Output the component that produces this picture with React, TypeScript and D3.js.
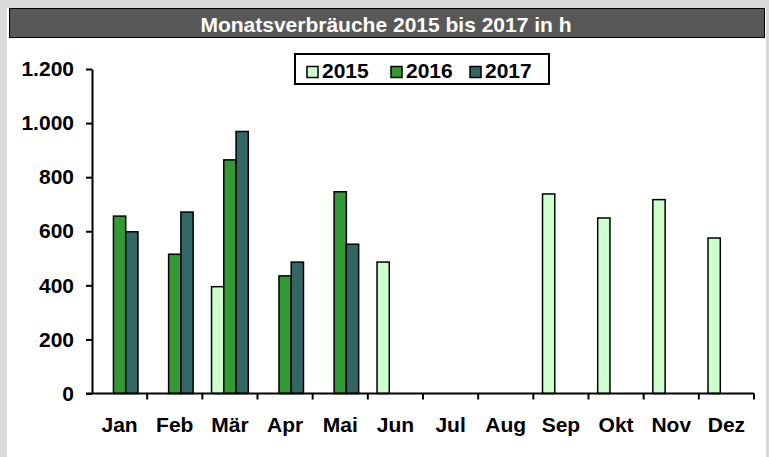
import React, { useEffect, useRef } from "react";
import * as d3 from "d3";

// Data
const months = ["Jan", "Feb", "Mär", "Apr", "Mai", "Jun", "Jul", "Aug", "Sep", "Okt", "Nov", "Dez"];
const years = ["2015", "2016", "2017"];
const values2015: (number | null)[] = [null, null, 395, null, null, 486, null, null, 738, 649, 717, 575];
const values2016: (number | null)[] = [656, 515, 864, 435, 746, null, null, null, null, null, null, null];
const values2017: (number | null)[] = [598, 671, 969, 486, 552, null, null, null, null, null, null, null];
const yTicks = [0, 200, 400, 600, 800, 1000, 1200];
const colors = ["#ccffcc", "#339933", "#336666"];

const W = 769;
const H = 457;
const FONT = "'Liberation Sans', Arial, Helvetica, sans-serif";

const App = () => {
  const ref = useRef<SVGSVGElement | null>(null);

  useEffect(() => {
    const svg = d3.select(ref.current);
    svg.selectAll("*").remove();

    const series = [values2015, values2016, values2017];

    // background + panel
    svg.append("rect").attr("width", W).attr("height", H).attr("fill", "#d9d9d9");
    svg.append("rect").attr("x", 7).attr("y", 8).attr("width", 759).attr("height", H - 8).attr("fill", "#ffffff");

    // title bar
    svg.append("rect")
      .attr("x", 9.5).attr("y", 8.5).attr("width", 755).attr("height", 29)
      .attr("fill", "#585858").attr("stroke", "#000").attr("stroke-width", 1);
    svg.append("text")
      .attr("x", 386).attr("y", 31.5)
      .attr("text-anchor", "middle")
      .attr("fill", "#ffffff")
      .style("font-family", FONT).style("font-weight", "bold").style("font-size", "21px")
      .text("Monatsverbräuche 2015 bis 2017 in h");

    const x0 = d3.scaleBand().domain(months).range([92, 754]).padding(0);
    const groupW = (x0.bandwidth() * 3) / 4.5; // Excel gap width 150%
    const x1 = d3.scaleBand().domain(years).range([0, groupW]).padding(0);
    const y = d3.scaleLinear().domain([0, 1200]).range([393.5, 69]);

    const fmt = d3.formatLocale({ decimal: ",", thousands: ".", grouping: [3], currency: ["", "€"] }).format(",d");

    // bars
    const g = svg.append("g");
    series.forEach((vals, si) => {
      g.append("g")
        .selectAll("rect")
        .data(months.map((m, i) => ({ m, v: vals[i] })).filter(d => d.v != null))
        .join("rect")
        .attr("x", d => (x0(d.m) as number) + (x0.bandwidth() - groupW) / 2 + (x1(years[si]) as number))
        .attr("y", d => y(d.v as number))
        .attr("width", x1.bandwidth())
        .attr("height", d => y(0) - y(d.v as number))
        .attr("fill", colors[si])
        .attr("stroke", "#000")
        .attr("stroke-width", 1.5);
    });

    // Y axis
    const yAxis = svg.append("g")
      .attr("transform", "translate(92,0)")
      .call(d3.axisLeft(y).tickValues(yTicks).tickFormat(d => fmt(d as number)).tickSize(6).tickPadding(12).tickSizeOuter(0));
    yAxis.selectAll("path, line").attr("stroke", "#000").attr("stroke-width", 2);
    yAxis.selectAll("text")
      .attr("fill", "#000")
      .style("font-family", FONT).style("font-weight", "bold").style("font-size", "21px");

    // X axis
    const xAxis = svg.append("g").attr("transform", `translate(0,${y(0)})`);
    xAxis.append("line").attr("x1", 86).attr("x2", 754).attr("stroke", "#000").attr("stroke-width", 2);
    xAxis.selectAll("line.tick")
      .data(months.map(m => x0(m) as number).concat([754]).slice(1))
      .join("line")
      .attr("class", "tick")
      .attr("x1", d => d).attr("x2", d => d)
      .attr("y1", 0).attr("y2", 6)
      .attr("stroke", "#000").attr("stroke-width", 2);
    xAxis.selectAll("text")
      .data(months)
      .join("text")
      .attr("x", d => (x0(d) as number) + x0.bandwidth() / 2)
      .attr("y", 38.5)
      .attr("text-anchor", "middle")
      .style("font-family", FONT).style("font-weight", "bold").style("font-size", "21px")
      .text(d => d);

    // Legend
    const leg = svg.append("g");
    leg.append("rect")
      .attr("x", 295).attr("y", 54).attr("width", 254).attr("height", 30)
      .attr("fill", "#fff").attr("stroke", "#000").attr("stroke-width", 2);
    const legX = [307, 391, 470];
    years.forEach((yr, i) => {
      leg.append("rect")
        .attr("x", legX[i]).attr("y", 66.5).attr("width", 11).attr("height", 11)
        .attr("fill", colors[i]).attr("stroke", "#000").attr("stroke-width", 1.5);
      leg.append("text")
        .attr("x", legX[i] + 15).attr("y", 77.5)
        .style("font-family", FONT).style("font-weight", "bold").style("font-size", "21px")
        .text(yr);
    });
  }, []);

  return (
    <div style={{ position: "absolute", left: 0, top: 0 }}>
      <svg ref={ref} width={W} height={H} style={{ display: "block" }} />
    </div>
  );
};

export default App;
